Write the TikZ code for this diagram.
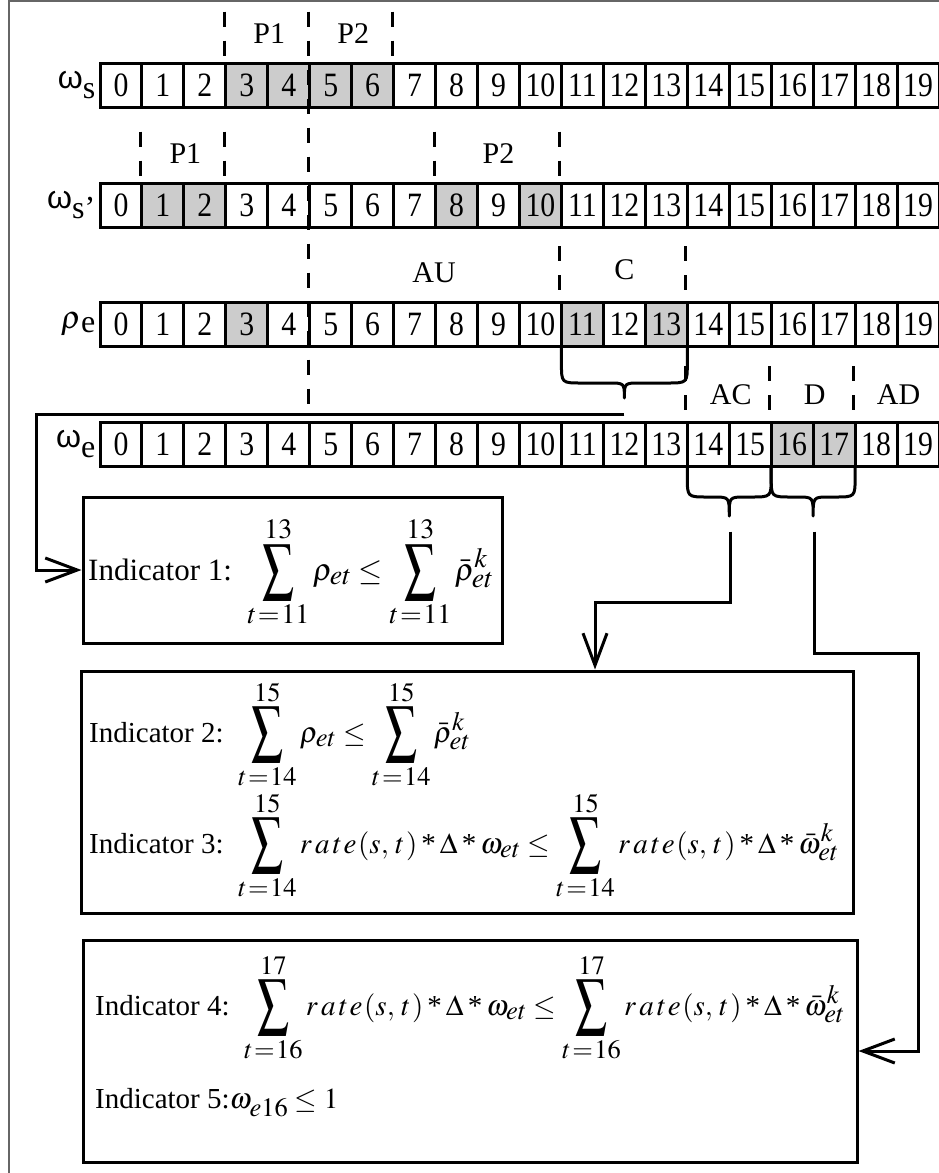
\documentclass[tikz,border=0pt]{standalone}
\usepackage{amsmath}
\usepackage{mathptmx}
\usepackage{fontspec}
\setmainfont{Liberation Serif}
\newfontfamily\lsans{Liberation Sans}
\usetikzlibrary{calc}
\usetikzlibrary{positioning}
\usetikzlibrary{arrows.meta}
\DeclareMathSizes{31}{31}{28}{21}
\DeclareMathSizes{29}{29}{26.5}{20}
\DeclareMathSizes{32}{32}{26}{20}

% label of a time line: sans omega with a large subscript
\newcommand{\wlab}[1]{{\lsans ω}\raisebox{-10pt}{\fontsize{32}{32}\selectfont #1}}
\newcommand{\mstar}{\mathbin{\text{*}}}
\newcommand{\ratest}{r\mkern2mu a\mkern2mu t\mkern1mu e\mkern1mu(s,\mkern2mu t\mkern1mu)}
% big sigma as in the equations
\newcommand{\bigsig}{\mathop{\vcenter{\hbox{\resizebox{32pt}{44pt}{$\textstyle\sum$}}}}}
\newcommand{\tsum}[2]{\bigsig\limits_{t\mkern1mu=\mkern1mu#1}^{#2}}
\newcommand{\cellnum}[1]{\scalebox{0.96}[1.1]{#1}}

% one row of 20 slots, white ones first, then the grey ones
\newcommand{\cellrow}[4]{%
    \foreach \i in {#3} \node[cell] (#1-\i) at ({120.975+41.95*\i},#2) {\cellnum{\i}};
    \foreach \i in {#4} \node[hicell] (#1-\i) at ({120.975+41.95*\i},#2) {\cellnum{\i}};
}

% curly brace under slots: left x, right x, top y, flat y, tip y
\newcommand{\slotbrace}[5]{%
    \draw[brc] (#1,#3) -- (#1,#4-20) .. controls (#1,#4) .. (#1+20,#4)
        -- ({(#1+#2)/2-16},#4) .. controls ({(#1+#2)/2},#4) .. ({(#1+#2)/2},#5)
        .. controls ({(#1+#2)/2},#4) .. ({(#1+#2)/2+16},#4)
        -- (#2-20,#4) .. controls (#2,#4) .. (#2,#4-20) -- (#2,#3);
}

\begin{document}
\begin{tikzpicture}[
    x=1pt, y=-1pt,
    % Define the style for the slots
    cell/.style={draw, line width=3pt, fill=white, minimum width=41.95pt,
        minimum height=44pt, inner sep=0pt, font=\fontsize{31}{31}\selectfont},
    hicell/.style={cell, fill=black!20},
    sep/.style={line width=3pt, dash pattern=on 15pt off 14pt},
    part/.style={inner sep=0pt, font=\fontsize{30}{30}\selectfont},
    rowlab/.style={anchor=base east, inner sep=0pt, font=\fontsize{32}{32}\selectfont},
    brc/.style={line width=3pt, line join=round},
    % Define the style for the indicator boxes
    ibox/.style={draw, line width=3pt},
    eqline/.style={anchor=base west, inner sep=0pt, font=\fontsize{29}{36}\selectfont},
    conn/.style={line width=3pt},
    arr/.style={conn, -{Straight Barb[length=32pt, width=24pt]}}
]
    \useasboundingbox (0,0) rectangle (939,1173);
    \draw[black!60, line width=1.2pt] (9,1173) -- (9,1) -- (939,1);

    % --- The four time lines ---
    \cellrow{s}{85}{0,1,2,7,8,...,19}{3,4,5,6}
    \cellrow{sp}{205}{0,3,4,5,6,7,9,11,12,...,19}{1,2,8,10}
    \cellrow{r}{324.5}{0,1,2,4,5,...,10,12,14,15,...,19}{3,11,13}
    \cellrow{w}{444.5}{0,1,...,15,18,19}{16,17}

    \node[rowlab] (lab-s) at ([xshift=-3pt,yshift=-3pt]s-0.west) {\wlab{s}};
    \node[rowlab] (lab-sp) at ([xshift=-3pt,yshift=-3pt]sp-0.west) {\wlab{s’}};
    \node[rowlab] (lab-r) at ([xshift=-3pt,yshift=-4pt]r-0.west) {$\rho$\raisebox{-4pt}{e}};
    \node[rowlab] (lab-w) at ([xshift=-3pt,yshift=-3pt]w-0.west) {\wlab{e}};

    % --- Feet of the braces ---
    \coordinate (Cfoot) at ($(r-12.south)+(0,66.5)$);
    \coordinate (ACfoot) at ($(w-14.south east)+(0,63.5)$);
    \coordinate (Dfoot) at ($(w-16.south east)+(0,63.5)$);

    % --- Period borders ---
    \draw[sep] ([yshift=50pt]s-3.north west) -- (s-3.north west);
    \draw[sep] ([yshift=50pt]s-5.north west) -- (s-5.north west |- Cfoot);
    \draw[sep] ([yshift=50pt]s-7.north west) -- (s-7.north west);
    \foreach \i in {1,3,8,11} \draw[sep] ([yshift=50pt]sp-\i.north west) -- (sp-\i.north west);
    \foreach \i in {11,14} \draw[sep] ([yshift=55pt]r-\i.north west) -- (r-\i.north west);
    \foreach \i in {14,16,18} \draw[sep] ([yshift=55pt]w-\i.north west) -- (w-\i.north west);

    \node[part] (p1-s) at ([yshift=28pt]s-3.north east) {P1};
    \node[part] (p2-s) at ([yshift=28pt]s-5.north east) {P2};
    \node[part] (p1-sp) at ([yshift=28pt]sp-1.north east) {P1};
    \node[part] (p2-sp) at ([yshift=28pt]sp-9.north) {P2};
    \node[part] (au) at ([yshift=28pt]r-8.north west) {AU};
    \node[part] (c) at ([yshift=31pt]r-12.north) {C};
    \node[part] (ac) at ([yshift=26pt]w-14.north east) {AC};
    \node[part] (d) at ([yshift=26pt]w-16.north east) {D};
    \node[part] (ad) at ([yshift=26pt]w-18.north east) {AD};

    % --- Braces ---
    \slotbrace{561.45}{687.3}{346.5}{383}{398}
    \slotbrace{687.3}{771.2}{466.5}{497}{516}
    \slotbrace{771.2}{855.1}{466.5}{497}{516}

    % --- Indicator boxes ---
    \node[ibox, minimum width=419pt, minimum height=146pt] (ind1) at (292.5,570) {};
    \node[ibox, minimum width=772pt, minimum height=242pt] (ind2) at (467,792) {};
    \node[ibox, minimum width=774pt, minimum height=222pt] (ind3) at (470,1051) {};

    \node[eqline, font=\fontsize{31}{36}\selectfont] (eq1) at (88,580) {Indicator 1:\enspace$\displaystyle
        \tsum{11}{13}\rho_{et}\le\tsum{11}{13}\bar{\rho}^{k}_{et}$};
    \node[eqline] (eq2) at (89,742) {Indicator 2:\enspace$\displaystyle
        \tsum{14}{15}\rho_{et}\le\tsum{14}{15}\bar{\rho}^{k}_{et}$};
    \node[eqline] (eq3) at (89,853) {Indicator 3:\enspace$\displaystyle
        \tsum{14}{15}\ratest\mstar\Delta\mstar\omega_{et}\le
        \tsum{14}{15}\ratest\mstar\Delta\mstar\bar{\omega}^{k}_{et}$};
    \node[eqline] (eq4) at (95,1015) {Indicator 4:\enspace$\displaystyle
        \tsum{16}{17}\ratest\mstar\Delta\mstar\omega_{et}\le
        \tsum{16}{17}\ratest\mstar\Delta\mstar\bar{\omega}^{k}_{et}$};
    \node[eqline] (eq5) at (95,1108) {Indicator 5:$\omega_{e16}\le 1$};

    % --- Connectors ---
    \draw[arr] (Cfoot) -| ([xshift=-45pt]ind1.west) -- (ind1.west);
    \draw[arr] (ACfoot) -- ++(0,71) -| ([xshift=128pt]ind2.north);
    \draw[arr] (Dfoot) -- ++(0,122) -| ([xshift=60pt]ind3.east) -- (ind3.east);

\end{tikzpicture}
\end{document}
